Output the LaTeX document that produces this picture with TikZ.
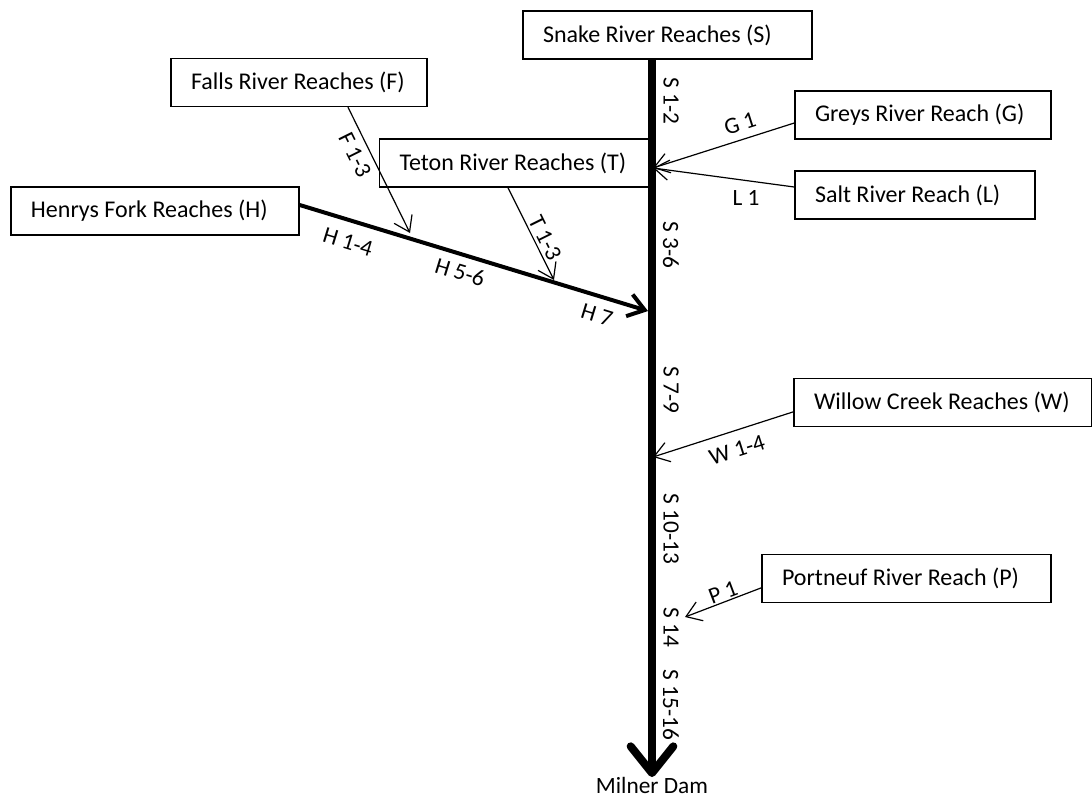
\documentclass[tikz,border=0pt]{standalone}
\usepackage{fontspec}
\setmainfont{Carlito}
\usepackage{tikz}
\usetikzlibrary{arrows.meta}

\begin{document}
\begin{tikzpicture}[x=0.75pt, y=-0.75pt,
        reach/.style={draw, line width=1.1pt, minimum height=36pt, inner xsep=15pt, text width=#1, align=flush left, font=\fontsize{18}{21}\selectfont},
        lbl/.style={font=\fontsize{17.5}{20}\selectfont, inner sep=1pt},
        feed/.style={line width=0.9pt, -{Straight Barb[length=11pt, width=15pt]}},
        fork/.style={line width=3pt, -{Straight Barb[length=12pt, width=17pt]}},
        main/.style={line width=6pt, -{Straight Barb[length=20pt, width=32pt, round]}}]
        \useasboundingbox (0, 0) rectangle (1092, 797);
        % reach boxes
        \node[reach=186.75pt] (snake) at (667.5, 35) {Snake River Reaches (S)};
        \node[reach=162pt] (falls) at (299, 82.5) {Falls River Reaches (F)};
        \node[reach=162pt] (greys) at (923, 115) {Greys River Reach (G)};
        \node[reach=171.75pt] (teton) at (514, 163) {Teton River Reaches (T)};
        \node[reach=150pt] (salt) at (915, 195) {Salt River Reach (L)};
        \node[reach=186pt] (henrys) at (155, 211) {Henrys Fork Reaches (H)};
        \node[reach=193.5pt] (willow) at (943, 402.5) {Willow Creek Reaches (W)};
        \node[reach=186.75pt] (portneuf) at (906.5, 578.5) {Portneuf River Reach (P)};
        \node[lbl, anchor=north, inner sep=0pt] (milner) at (652, 777) {Milner Dam};
        % junctions on the main stem
        \coordinate (gl) at (653, 168);
        \coordinate (w) at (653, 457);
        \coordinate (p) at (685, 617);
        \coordinate (fh) at (410, 233);
        \coordinate (th) at (554, 280);
        \coordinate (hs) at (648, 311);
        % rivers
        \draw[main] (milner.north |- snake.south) -- (milner.north);
        \draw[fork] ([yshift=4.5pt]henrys.east) -- (hs);
        \draw[feed] ([xshift=36.75pt]falls.south) -- (fh);
        \draw[feed] ([xshift=-4.5pt]teton.south) -- (th);
        \draw[feed] ([yshift=-6pt]greys.west) -- (gl);
        \draw[feed] ([yshift=6pt]salt.west) -- (gl);
        \draw[feed] ([yshift=-7pt]willow.west) -- (w);
        \draw[feed] ([yshift=-7pt]portneuf.west) -- (p);
        % reach labels
        \foreach \y/\t in {101/S 1-2, 245/S 3-6, 390/S 7-9, 529/S 10-13, 627/S 14, 705/S 15-16}
            \node[lbl, rotate=-90] (s\y) at (671, \y) {\t};
        \node[lbl, rotate=-17] (h1) at (348, 242) {H 1-4};
        \node[lbl, rotate=-17] (h5) at (460, 272) {H 5-6};
        \node[lbl, rotate=-17] (h7) at (597, 315) {H 7};
        \node[lbl, rotate=-63.6] (f1) at (355, 155) {F 1-3};
        \node[lbl, rotate=-63.7] (t1) at (545, 238) {T 1-3};
        \node[lbl, rotate=17.6] (g1) at (740, 124) {G 1};
        \node[lbl] (l1) at (746, 198) {L 1};
        \node[lbl, rotate=17.7] (w1) at (737, 450) {W 1-4};
        \node[lbl, rotate=20.6] (p1) at (723, 592) {P 1};
\end{tikzpicture}
\end{document}
